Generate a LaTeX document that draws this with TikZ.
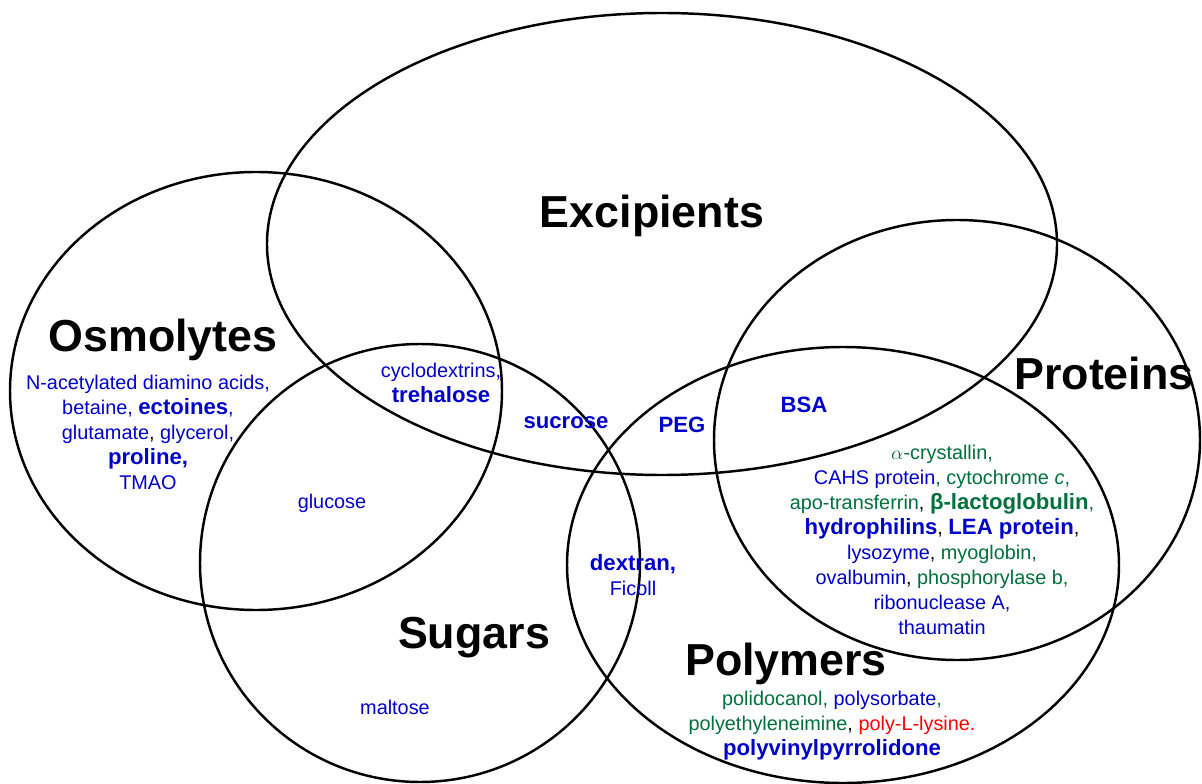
\documentclass[tikz,border=0pt]{standalone}
\usepackage{fontspec}
\setmainfont{Liberation Sans}
\usetikzlibrary{shapes.geometric}
\definecolor{itemblue}{RGB}{0,0,204}
\definecolor{itemgreen}{RGB}{0,112,60}
\definecolor{itemred}{RGB}{255,0,0}
\tikzstyle{vennset} = [ellipse, draw=black, line width=1.4pt, inner sep=0pt]
\tikzstyle{settitle} = [font=\fontsize{25.5}{30}\selectfont\bfseries, text=black, anchor=base]
\tikzstyle{itemlist} = [font=\fontsize{11.3}{14.2}\selectfont, text=itemblue, align=center, inner sep=0pt]
\tikzstyle{itemone} = [itemlist, anchor=base]
\newcommand{\grn}[1]{\textcolor{itemgreen}{#1}}
\newcommand{\rd}[1]{\textcolor{itemred}{#1}}
\newcommand{\blk}[1]{\textcolor{black}{#1}}
\newcommand{\bigitem}[1]{{\fontsize{12.6}{14.2}\selectfont\bfseries #1}}

\begin{document}
\begin{tikzpicture}
    \useasboundingbox (0,0) rectangle (24.04,-15.68);
    % the five sets
    \node (excipients) [vennset, minimum width=15.8cm, minimum height=9.24cm] at (13.24,-4.88) {};
    \node (osmolytes) [vennset, minimum width=9.84cm, minimum height=8.76cm] at (5.12,-7.82) {};
    \node (sugars) [vennset, minimum width=8.8cm, minimum height=8.76cm] at (8.40,-11.26) {};
    \node (polymers) [vennset, minimum width=11.04cm, minimum height=8.72cm] at (16.86,-11.30) {};
    \node (proteins) [vennset, minimum width=9.72cm, minimum height=8.8cm] at (19.14,-8.80) {};

    % set titles
    \node (exctitle) [settitle] at (13.04,-4.56) {Excipients};
    \node (osmtitle) [settitle] at (3.26,-7.02) {Osmolytes};
    \node (prottitle) [settitle] at (22.08,-7.78) {Proteins};
    \node (sugtitle) [settitle] at (9.48,-12.96) {Sugars};
    \node (polytitle) [settitle] at (15.72,-13.50) {Polymers};

    % members
    \node (osmlist) [itemlist] at (2.96,-8.64) {N-acetylated diamino acids,\\
        betaine, \bigitem{ectoines},\\
        glutamate\blk{,} glycerol,\\
        \bigitem{proline,}\\
        TMAO};
    \node (osmsug) [itemlist] at (8.82,-7.66) {cyclodextrins,\\ \bigitem{trehalose}};
    \node (sucrose) [itemone] at (11.32,-8.56) {\bigitem{sucrose}};
    \node (peg) [itemone] at (13.64,-8.64) {\bigitem{PEG}};
    \node (bsa) [itemone] at (16.08,-8.24) {\bigitem{BSA}};
    \node (glucose) [itemone] at (6.64,-10.16) {glucose};
    \node (maltose) [itemone] at (7.90,-14.28) {maltose};
    \node (dextran) [itemlist] at (12.66,-11.51) {\bigitem{dextran,}\\ Ficoll};
    \node (protlist) [itemlist] at (18.84,-10.80) {\grn{$\alpha$-crystallin,}\\
        CAHS protein\grn{, cytochrome \textit{c},}\\
        \grn{apo-transferrin}\blk{,} \grn{\bigitem{β-lactoglobulin},}\\
        \bigitem{hydrophilins}\blk{,} \bigitem{LEA protein}\blk{,}\\
        lysozyme\blk{,} \grn{myoglobin,}\\
        ovalbumin\blk{,} \grn{phosphorylase b,}\\
        ribonuclease A,\\
        thaumatin};
    \node (polylist) [itemlist] at (16.64,-14.52) {\grn{polidocanol,} polysorbate\grn{,}\\
        \grn{polyethyleneimine}\blk{,} \rd{poly-L-lysine.}\\
        \bigitem{polyvinylpyrrolidone}};
\end{tikzpicture}
\end{document}
